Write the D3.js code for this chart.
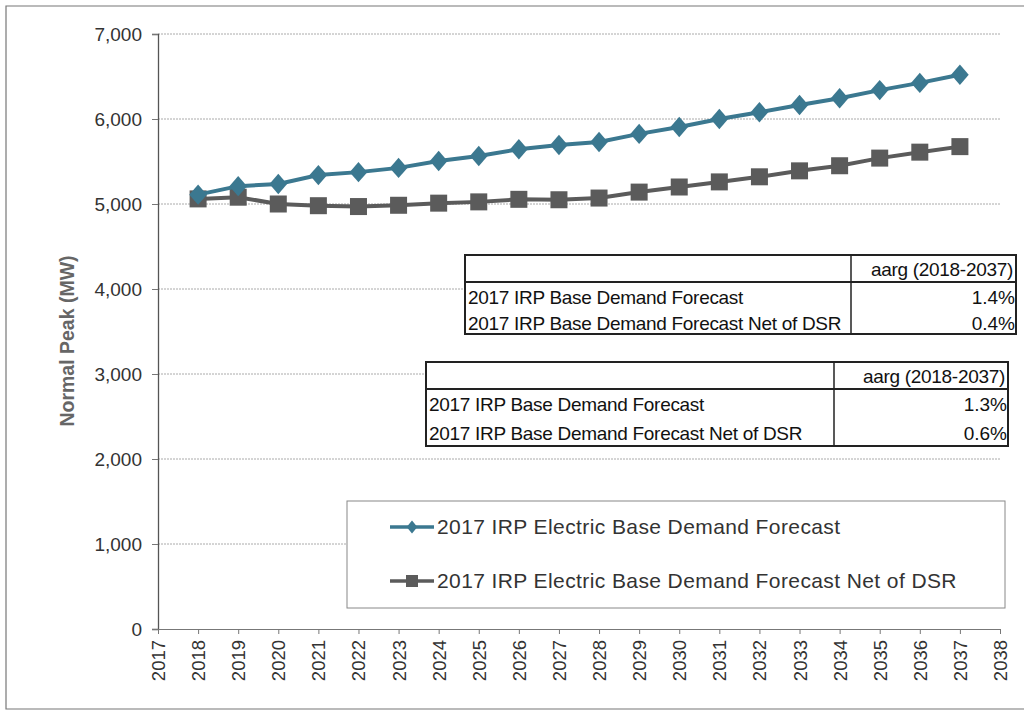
<!DOCTYPE html>
<html>
<head>
<meta charset="utf-8">
<script src="https://cdn.jsdelivr.net/npm/d3@7"></script>
<style>
  body { margin: 0; background: #fff; }
  svg { display: block; }
</style>
</head>
<body>
<svg id="chart"></svg>
<script>
var width = 1024;
var height = 713;

// values
var years = [2018, 2019, 2020, 2021, 2022, 2023, 2024, 2025, 2026, 2027,
             2028, 2029, 2030, 2031, 2032, 2033, 2034, 2035, 2036, 2037];
var baseDemand = [5110, 5210, 5235, 5340, 5375, 5425, 5505, 5565, 5645, 5695,
                  5730, 5825, 5905, 6000, 6080, 6165, 6245, 6340, 6425, 6520];
var netOfDsr = [5060, 5080, 5000, 4980, 4970, 4985, 5010, 5025, 5055, 5050,
                5070, 5140, 5200, 5260, 5320, 5390, 5450, 5540, 5610, 5675];
var yTicks = [0, 1000, 2000, 3000, 4000, 5000, 6000, 7000];
var xTicks = d3.range(2017, 2039);
var seriesNames = ["2017 IRP Electric Base Demand Forecast",
                   "2017 IRP Electric Base Demand Forecast Net of DSR"];
var tableHeader = "aarg (2018-2037)";
var tableRows = ["2017 IRP Base Demand Forecast", "2017 IRP Base Demand Forecast Net of DSR"];
var table1Values = ["1.4%", "0.4%"];
var table2Values = ["1.3%", "0.6%"];

var blue = "#3b7890";
var grey = "#5b5b5b";
var sans = "Liberation Sans, Arial, sans-serif";

var svg = d3.select("#chart")
  .attr("width", width)
  .attr("height", height);

// scanned page frame
svg.append("path")
  .attr("d", "M1024,6 H6 V709 H1024")
  .attr("fill", "none")
  .attr("stroke", "#777")
  .attr("stroke-width", 1.2);

var x = d3.scaleLinear().domain([2017, 2038]).range([158, 1000]);
var y = d3.scaleLinear().domain([0, 7000]).range([629, 34]);

// grid
svg.append("g").selectAll("line")
  .data(yTicks.filter(function (d) { return d > 0; }))
  .enter().append("line")
  .attr("x1", x(2017)).attr("x2", x(2038))
  .attr("y1", function (d) { return y(d); })
  .attr("y2", function (d) { return y(d); })
  .attr("stroke", "#aaa")
  .attr("stroke-width", 1)
  .attr("stroke-dasharray", "2,1");

// y axis
var yAxis = d3.axisLeft(y).tickValues(yTicks).tickSize(6).tickPadding(10)
  .tickFormat(d3.format(","));
var gy = svg.append("g").attr("transform", "translate(" + x(2017) + ",0)").call(yAxis);
gy.select(".domain").attr("stroke", "#555").attr("stroke-width", 1.3);
gy.selectAll(".tick line").attr("stroke", "#777");
gy.selectAll("text")
  .attr("font-family", sans)
  .attr("font-size", 19)
  .attr("fill", "#333");

// x axis
var xAxis = d3.axisBottom(x).tickValues(xTicks).tickSize(5).tickPadding(6)
  .tickFormat(d3.format("d"));
var gx = svg.append("g").attr("transform", "translate(0," + y(0) + ")").call(xAxis);
gx.select(".domain").attr("stroke", "#777").attr("stroke-width", 1);
gx.selectAll(".tick line").attr("stroke", "#777");
gx.selectAll("text")
  .attr("font-family", sans)
  .attr("font-size", 18.5)
  .attr("fill", "#333")
  .attr("text-anchor", "end")
  .attr("dy", "0.35em")
  .attr("transform", "translate(0,5) rotate(-90)")
  .attr("x", -6)
  .attr("y", 0);

// y title
svg.append("text")
  .attr("transform", "translate(74,341) rotate(-90)")
  .attr("text-anchor", "middle")
  .attr("font-family", sans)
  .attr("font-size", 19.5)
  .attr("font-weight", "bold")
  .attr("fill", "#666")
  .text("Normal Peak (MW)");

// lines
var line = d3.line()
  .x(function (d, i) { return x(years[i]); })
  .y(function (d) { return y(d); });

svg.append("path").datum(netOfDsr)
  .attr("d", line).attr("fill", "none")
  .attr("stroke", grey).attr("stroke-width", 4);
svg.append("g").selectAll("rect")
  .data(netOfDsr).enter().append("rect")
  .attr("x", function (d, i) { return x(years[i]) - 8.5; })
  .attr("y", function (d) { return y(d) - 8.5; })
  .attr("width", 17).attr("height", 17)
  .attr("fill", grey);

svg.append("path").datum(baseDemand)
  .attr("d", line).attr("fill", "none")
  .attr("stroke", blue).attr("stroke-width", 4);
var diamond = d3.symbol().type(d3.symbolDiamond2).size(220);
svg.append("g").selectAll("path")
  .data(baseDemand).enter().append("path")
  .attr("d", diamond)
  .attr("transform", function (d, i) { return "translate(" + x(years[i]) + "," + y(d) + ") scale(0.95,1.1)"; })
  .attr("fill", blue);

// tables
function drawTable(left, top, w, h, divX, values) {
  var g = svg.append("g");
  g.append("rect")
    .attr("x", left).attr("y", top).attr("width", w).attr("height", h)
    .attr("fill", "#fff").attr("stroke", "#222").attr("stroke-width", 2);
  g.append("line")
    .attr("x1", left).attr("x2", left + w)
    .attr("y1", top + 27).attr("y2", top + 27)
    .attr("stroke", "#222").attr("stroke-width", 1.8);
  g.append("line")
    .attr("x1", divX).attr("x2", divX)
    .attr("y1", top).attr("y2", top + h)
    .attr("stroke", "#222").attr("stroke-width", 1.5);
  g.append("text")
    .attr("x", left + w - 3).attr("y", top + 21)
    .attr("text-anchor", "end")
    .attr("font-family", sans).attr("font-size", 19).attr("fill", "#111")
    .attr("letter-spacing", -0.3)
    .text(tableHeader);
  tableRows.forEach(function (r, i) {
    var ty = top + 49 + i * (h - 27) / 2;
    g.append("text")
      .attr("x", left + 3).attr("y", ty)
      .attr("font-family", sans).attr("font-size", 19).attr("fill", "#111")
      .attr("letter-spacing", -0.3)
      .text(r);
    g.append("text")
      .attr("x", left + w - 1).attr("y", ty)
      .attr("text-anchor", "end")
      .attr("font-family", sans).attr("font-size", 19).attr("fill", "#111")
      .text(values[i]);
  });
}
drawTable(465, 255, 551, 79, 851, table1Values);
drawTable(426, 362, 582, 84, 834, table2Values);

// legend
var lg = svg.append("g");
lg.append("rect")
  .attr("x", 347).attr("y", 501).attr("width", 658).attr("height", 107)
  .attr("fill", "#fff").attr("stroke", "#888").attr("stroke-width", 1);
[0, 1].forEach(function (i) {
  var ly = 527 + i * 54;
  var c = i === 0 ? blue : grey;
  lg.append("line")
    .attr("x1", 390).attr("x2", 434).attr("y1", ly).attr("y2", ly)
    .attr("stroke", c).attr("stroke-width", 3.5);
  if (i === 0) {
    lg.append("path")
      .attr("d", d3.symbol().type(d3.symbolDiamond2).size(90))
      .attr("transform", "translate(412," + ly + ") scale(0.9,1.1)")
      .attr("fill", c);
  } else {
    lg.append("rect")
      .attr("x", 406).attr("y", ly - 6).attr("width", 12).attr("height", 12)
      .attr("fill", c);
  }
  lg.append("text")
    .attr("x", 437).attr("y", ly + 7)
    .attr("font-family", sans)
    .attr("font-size", 21)
    .attr("letter-spacing", 0.4)
    .attr("fill", "#333")
    .text(seriesNames[i]);
});
</script>
</body>
</html>
